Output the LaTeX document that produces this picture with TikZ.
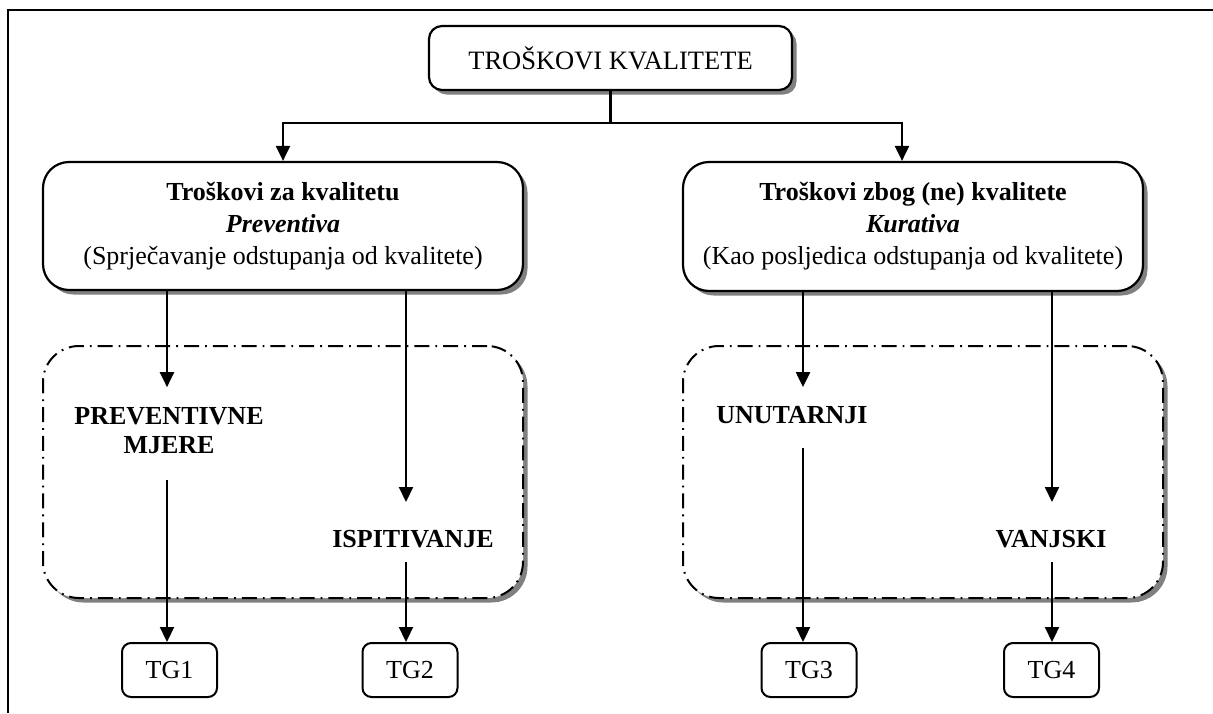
\documentclass[tikz,border=0pt]{standalone}
\usepackage{fontspec}
\setmainfont{Liberation Serif}
\usetikzlibrary{arrows.meta,shadows}
\begin{document}
\begin{tikzpicture}[x=1pt,y=-1pt,
  every node/.style={font=\fontsize{26}{32}\selectfont},
  mainbox/.style={draw, line width=2.2pt, fill=white, align=center, inner sep=0pt,
    drop shadow={shadow xshift=4.5pt, shadow yshift=-4.5pt, fill=black!50, opacity=1}},
  tgbox/.style={draw, line width=2pt, rounded corners=9pt, fill=white, inner sep=0pt,
    minimum width=95pt, minimum height=54pt},
  region/.style={draw, line width=2pt, fill=white, rounded corners=36pt,
    dash pattern=on 15pt off 6pt on 1.8pt off 6pt, inner sep=0pt,
    minimum width=480pt, minimum height=252pt,
    drop shadow={shadow xshift=4.5pt, shadow yshift=-4.5pt, fill=black!50, opacity=1}},
  lbl/.style={font=\fontsize{26}{29}\selectfont\bfseries, align=center, inner sep=0pt},
  arr/.style={line width=2.2pt, -{Triangle[length=15pt,width=14pt]}},
  ln/.style={line width=2.2pt}]
\useasboundingbox (0,0) rectangle (1213,713);
% frame
\draw[line width=2.4pt] (8,713) -- (8,10) -- (1213,10);

% regions
\node[region] (reg1) at (283,472) {};
\node[region] (reg2) at (923,472) {};

% top boxes
\node[mainbox, rounded corners=13pt, minimum width=363pt, minimum height=64pt] (top) at (610.5,58) {\fontsize{26.5}{32}\selectfont TROŠKOVI KVALITETE};
\node[mainbox, rounded corners=26pt, minimum width=480pt, minimum height=128pt] (b1) at (283,226)
  {\textbf{Troškovi za kvalitetu}\\\textbf{\textit{Preventiva}}\\(Sprječavanje odstupanja od kvalitete)};
\node[mainbox, rounded corners=26pt, minimum width=460pt, minimum height=129pt] (b2) at (913,226.5)
  {\textbf{Troškovi zbog (ne) kvalitete}\\\textbf{\textit{Kurativa}}\\(Kao posljedica odstupanja od kvalitete)};

% labels
\node[lbl] (pm) at (169,430.5) {PREVENTIVNE\\MJERE};
\node[lbl] (isp) at (413,539) {ISPITIVANJE};
\node[lbl] (un) at (792,415) {UNUTARNJI};
\node[lbl] (van) at (1051,539) {VANJSKI};

% TG boxes
\node[tgbox] (tg1) at (169.5,670) {TG1};
\node[tgbox] (tg2) at (410,670) {TG2};
\node[tgbox] (tg3) at (809,670) {TG3};
\node[tgbox] (tg4) at (1051.5,670) {TG4};

% columns
\coordinate (k1) at (167,0);
\coordinate (k2) at (406,0);
\coordinate (k3) at (803,0);
\coordinate (k4) at (1052,0);
\coordinate (split) at (610.5,123);

% connectors
\draw[ln] (top.south) -- (split);
\draw[arr] (split) -| (b1.north);
\draw[arr] (split) -| ([xshift=-11pt]b2.north);

\draw[arr] (b1.south -| k1) -- ([yshift=20pt]pm.north -| k1);
\draw[arr] ([yshift=-26pt]pm.south -| k1) -- (tg1.north -| k1);
\draw[arr] (b1.south -| k2) -- ([yshift=28pt]isp.north -| k2);
\draw[arr] ([yshift=-14pt]isp.south -| k2) -- (tg2.north -| k2);
\draw[arr] (b2.south -| k3) -- ([yshift=19pt]un.north -| k3);
\draw[arr] ([yshift=-24pt]un.south -| k3) -- (tg3.north -| k3);
\draw[arr] (b2.south -| k4) -- ([yshift=28pt]van.north -| k4);
\draw[arr] ([yshift=-14pt]van.south -| k4) -- (tg4.north -| k4);
\end{tikzpicture}
\end{document}
